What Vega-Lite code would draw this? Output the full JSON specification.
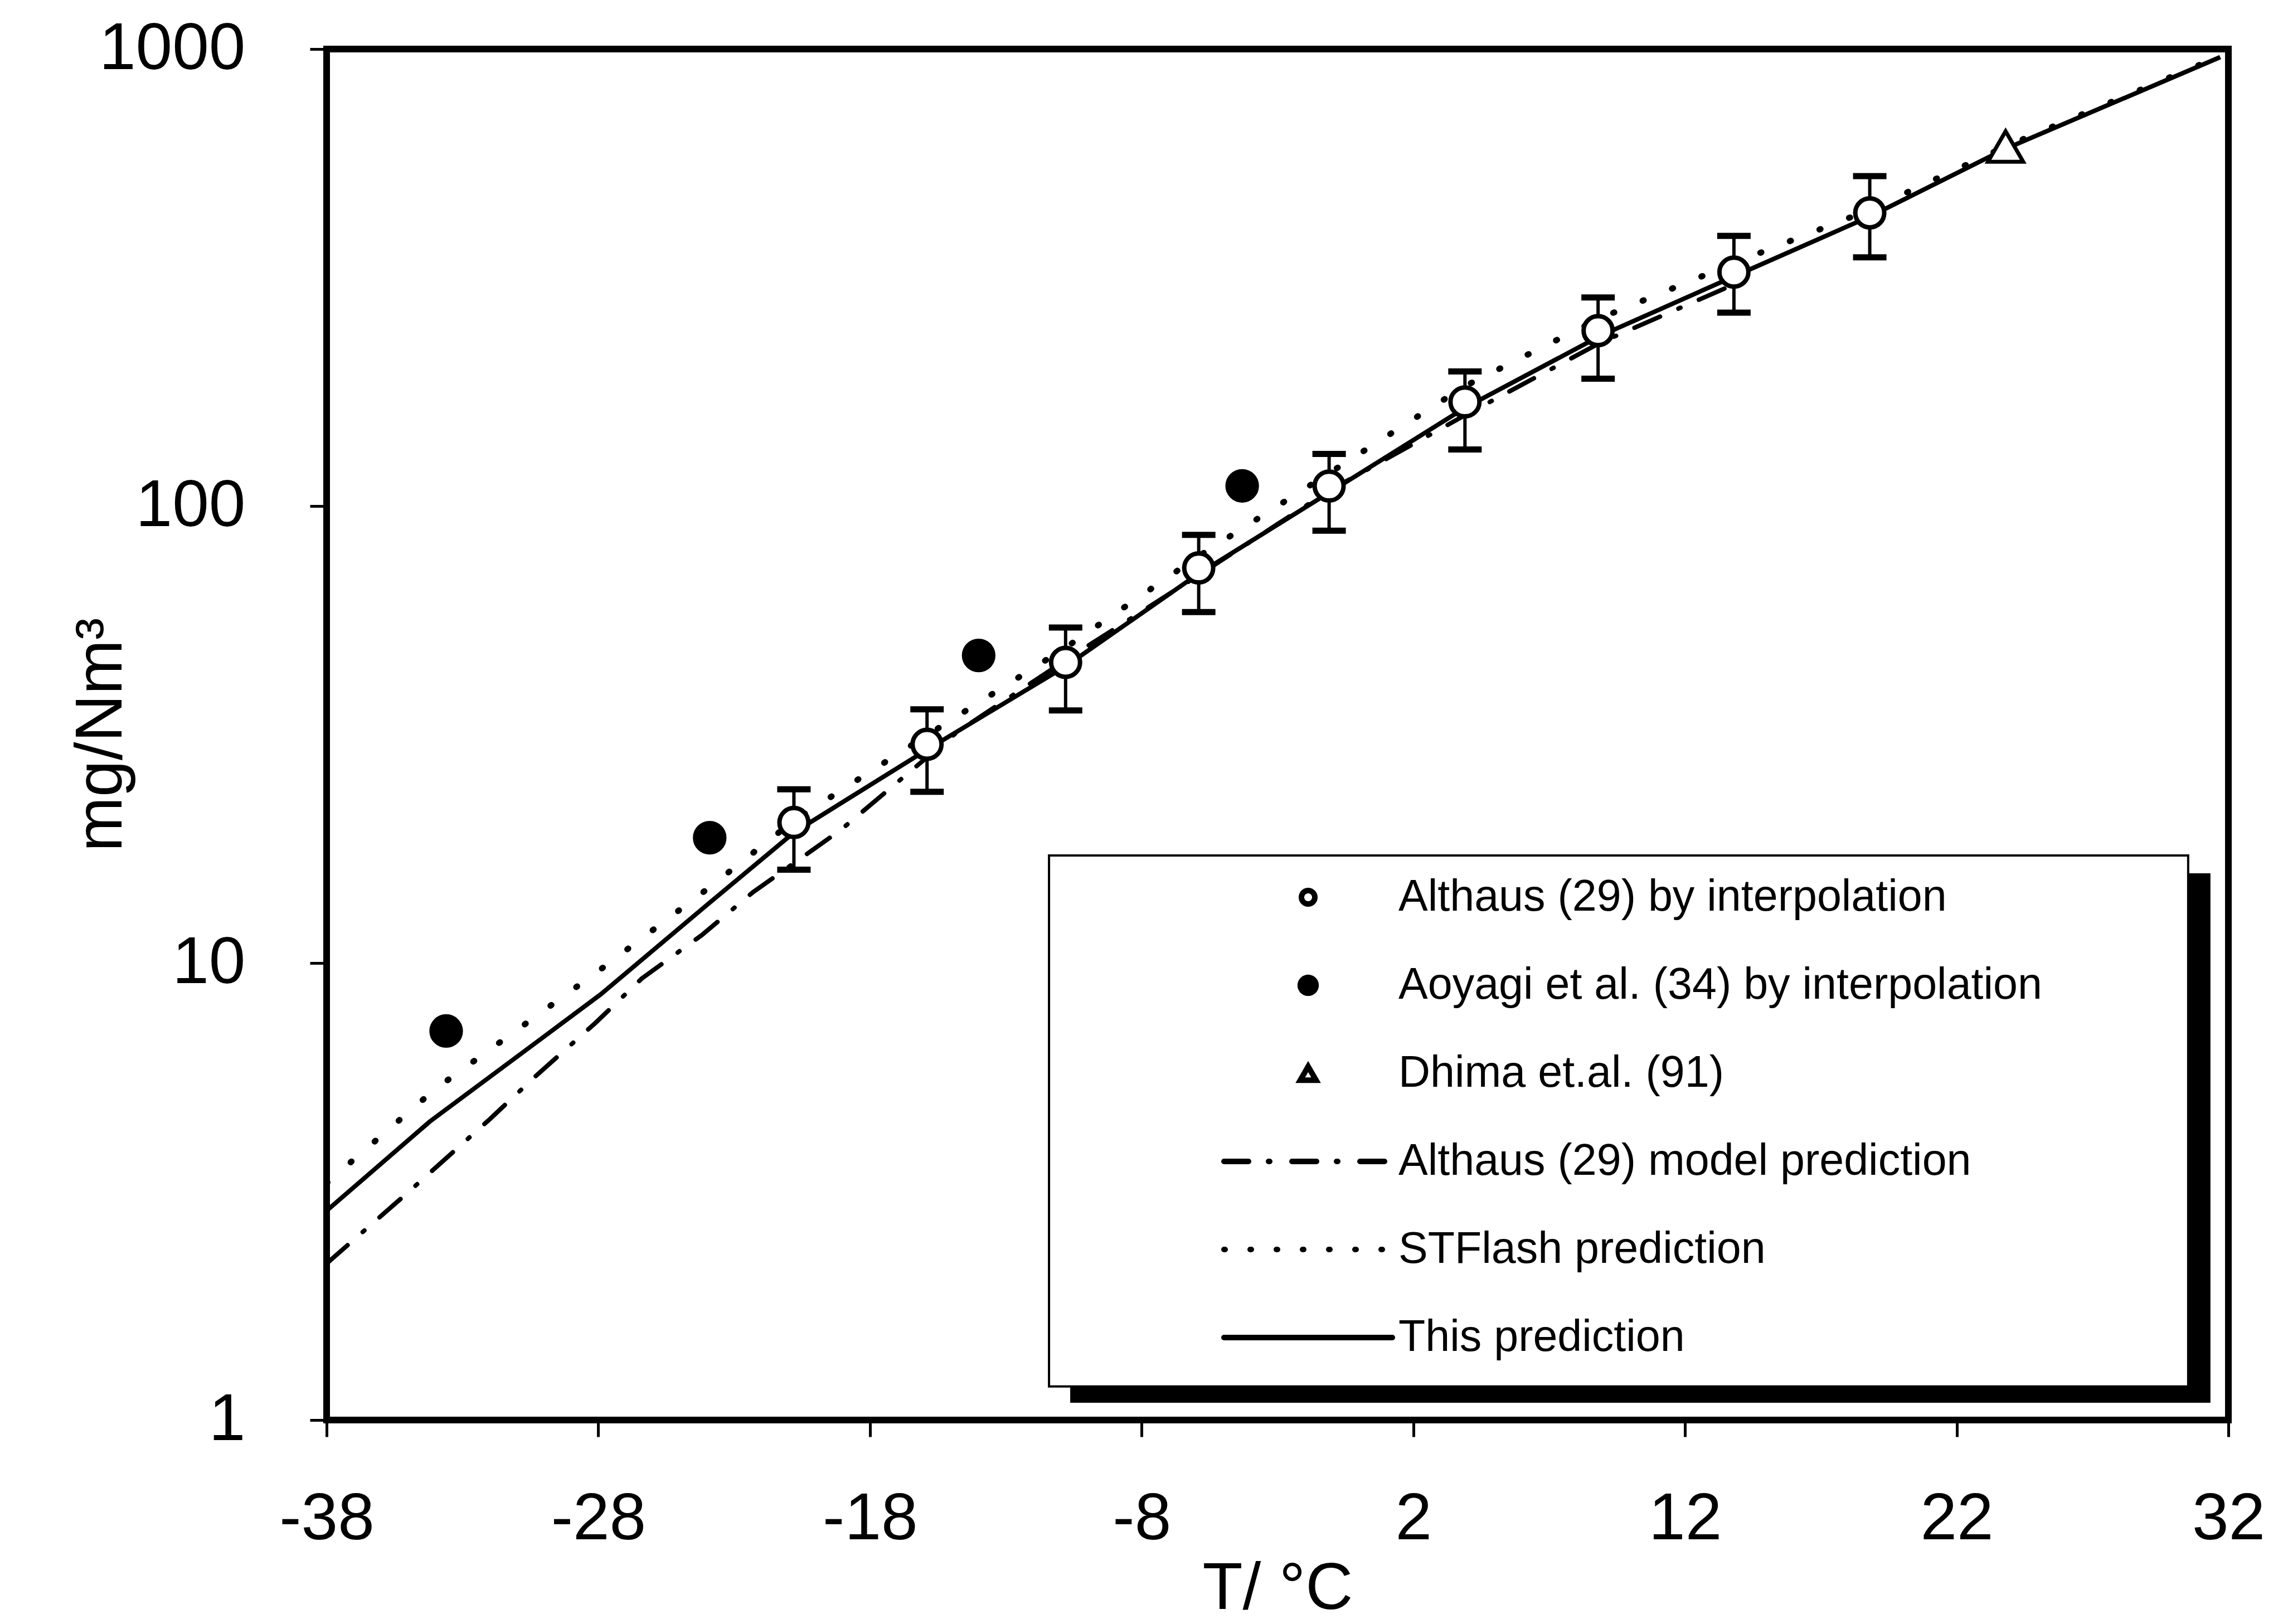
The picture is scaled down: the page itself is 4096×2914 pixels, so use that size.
{
  "$schema": "https://vega.github.io/schema/vega-lite/v6.json",
  "autosize": {"type": "none"},
  "padding": {"left": 586, "top": 88, "right": 98, "bottom": 366},
  "width": 3412,
  "height": 2460,
  "background": "white",
  "datasets": {
    "althaus": [
      {"series": "Althaus (29) by interpolation", "T": -20.8, "v": 20.3, "lo": 16.0, "hi": 24.0},
      {"series": "Althaus (29) by interpolation", "T": -15.9, "v": 30.1, "lo": 23.7, "hi": 35.9},
      {"series": "Althaus (29) by interpolation", "T": -10.8, "v": 45.5, "lo": 35.7, "hi": 54.2},
      {"series": "Althaus (29) by interpolation", "T": -5.9, "v": 73.2, "lo": 58.6, "hi": 86.5},
      {"series": "Althaus (29) by interpolation", "T": -1.1, "v": 110.6, "lo": 88.3, "hi": 130},
      {"series": "Althaus (29) by interpolation", "T": 3.9, "v": 169, "lo": 133, "hi": 197},
      {"series": "Althaus (29) by interpolation", "T": 8.8, "v": 242, "lo": 190, "hi": 286},
      {"series": "Althaus (29) by interpolation", "T": 13.8, "v": 325, "lo": 265, "hi": 390},
      {"series": "Althaus (29) by interpolation", "T": 18.8, "v": 438, "lo": 350, "hi": 527}
    ],
    "aoyagi": [
      {"series": "Aoyagi et al. (34) by interpolation", "T": -33.6, "v": 7.1},
      {"series": "Aoyagi et al. (34) by interpolation", "T": -23.9, "v": 18.8},
      {"series": "Aoyagi et al. (34) by interpolation", "T": -14.0, "v": 47.1},
      {"series": "Aoyagi et al. (34) by interpolation", "T": -4.3, "v": 110.7}
    ],
    "dhima": [
      {"series": "Dhima et.al. (91)", "T": 23.8, "v": 612}
    ],
    "model": [
      {"series": "Althaus (29) model prediction", "T": -38, "v": 2.2},
      {"series": "Althaus (29) model prediction", "T": -35, "v": 3.15},
      {"series": "Althaus (29) model prediction", "T": -32, "v": 4.55},
      {"series": "Althaus (29) model prediction", "T": -30.3, "v": 5.66},
      {"series": "Althaus (29) model prediction", "T": -28.1, "v": 7.4},
      {"series": "Althaus (29) model prediction", "T": -26.4, "v": 9.25},
      {"series": "Althaus (29) model prediction", "T": -24.2, "v": 11.5},
      {"series": "Althaus (29) model prediction", "T": -22.3, "v": 14.3},
      {"series": "Althaus (29) model prediction", "T": -19.1, "v": 19.5},
      {"series": "Althaus (29) model prediction", "T": -14.8, "v": 32},
      {"series": "Althaus (29) model prediction", "T": -10.8, "v": 46},
      {"series": "Althaus (29) model prediction", "T": -6, "v": 70},
      {"series": "Althaus (29) model prediction", "T": -1.1, "v": 108},
      {"series": "Althaus (29) model prediction", "T": 3.9, "v": 158},
      {"series": "Althaus (29) model prediction", "T": 8.9, "v": 228},
      {"series": "Althaus (29) model prediction", "T": 13.5, "v": 300}
    ],
    "stflash": [
      {"series": "STFlash prediction", "T": -38, "v": 3.3},
      {"series": "STFlash prediction", "T": -34, "v": 5.3},
      {"series": "STFlash prediction", "T": -28, "v": 9.6},
      {"series": "STFlash prediction", "T": -24, "v": 14.5},
      {"series": "STFlash prediction", "T": -20.8, "v": 20.5},
      {"series": "STFlash prediction", "T": -15.9, "v": 31.5},
      {"series": "STFlash prediction", "T": -10.8, "v": 49},
      {"series": "STFlash prediction", "T": -6, "v": 77},
      {"series": "STFlash prediction", "T": -1.1, "v": 118},
      {"series": "STFlash prediction", "T": 3.9, "v": 183},
      {"series": "STFlash prediction", "T": 8.9, "v": 258},
      {"series": "STFlash prediction", "T": 13.8, "v": 340},
      {"series": "STFlash prediction", "T": 18.8, "v": 445},
      {"series": "STFlash prediction", "T": 23.8, "v": 612},
      {"series": "STFlash prediction", "T": 31.7, "v": 965}
    ],
    "this": [
      {"series": "This prediction", "T": -38, "v": 2.87},
      {"series": "This prediction", "T": -34.2, "v": 4.5},
      {"series": "This prediction", "T": -30, "v": 6.9},
      {"series": "This prediction", "T": -27.9, "v": 8.55},
      {"series": "This prediction", "T": -24, "v": 13.4},
      {"series": "This prediction", "T": -20.8, "v": 19.3},
      {"series": "This prediction", "T": -15.9, "v": 29.3},
      {"series": "This prediction", "T": -10.8, "v": 44.6},
      {"series": "This prediction", "T": -6, "v": 70.5},
      {"series": "This prediction", "T": -1.1, "v": 107},
      {"series": "This prediction", "T": 3.9, "v": 164},
      {"series": "This prediction", "T": 8.9, "v": 236},
      {"series": "This prediction", "T": 13.8, "v": 318},
      {"series": "This prediction", "T": 18.8, "v": 430},
      {"series": "This prediction", "T": 23.8, "v": 605},
      {"series": "This prediction", "T": 31.7, "v": 960}
    ]
  },
  "layer": [
    {
      "data": {"name": "aoyagi"},
      "mark": {"type": "point", "opacity": 0, "filled": true, "stroke": "black"},
      "encoding": {
        "x": {
          "field": "T", "type": "quantitative",
          "scale": {"domain": [-38, 32], "nice": false, "zero": false},
          "axis": {
            "values": [-38, -28, -18, -8, 2, 12, 22, 32],
            "labelExpr": "'' + datum.value",
            "title": "T/ °C"
          }
        },
        "y": {
          "field": "v", "type": "quantitative",
          "scale": {"type": "log", "domain": [1, 1000], "nice": false},
          "axis": {
            "values": [1, 10, 100, 1000],
            "labelExpr": "'' + datum.value",
            "title": "mg/Nm³",
            "labelPadding": 116,
            "titlePadding": 144,
            "titleFontSize": 118
          }
        },
        "shape": {
          "field": "series", "type": "nominal",
          "scale": {
            "domain": ["Althaus (29) by interpolation", "Aoyagi et al. (34) by interpolation", "Dhima et.al. (91)", "Althaus (29) model prediction", "STFlash prediction", "This prediction"],
            "range": ["circle", "circle", "triangle-up", "stroke", "stroke", "stroke"]
          },
          "legend": {"title": null, "encoding": {"symbols": {"stroke": {"value": "black"}, "strokeWidth": {"value": 10}, "strokeCap": {"value": "round"}, "opacity": {"value": 1}}}}
        },
        "fill": {
          "field": "series", "type": "nominal",
          "scale": {
            "domain": ["Althaus (29) by interpolation", "Aoyagi et al. (34) by interpolation", "Dhima et.al. (91)", "Althaus (29) model prediction", "STFlash prediction", "This prediction"],
            "range": ["white", "black", "white", "white", "white", "white"]
          },
          "legend": {"title": null, "encoding": {"symbols": {"stroke": {"value": "black"}, "strokeWidth": {"value": 10}, "strokeCap": {"value": "round"}, "opacity": {"value": 1}}}}
        },
        "size": {
          "field": "series", "type": "nominal",
          "scale": {
            "type": "ordinal",
            "domain": ["Althaus (29) by interpolation", "Aoyagi et al. (34) by interpolation", "Dhima et.al. (91)", "Althaus (29) model prediction", "STFlash prediction", "This prediction"],
            "range": [576, 800, 800, 91204, 91204, 91204]
          },
          "legend": {"title": null, "encoding": {"symbols": {"stroke": {"value": "black"}, "strokeWidth": {"value": 10}, "strokeCap": {"value": "round"}, "opacity": {"value": 1}}}}
        },
        "strokeDash": {
          "field": "series", "type": "nominal",
          "scale": {
            "domain": ["Althaus (29) by interpolation", "Aoyagi et al. (34) by interpolation", "Dhima et.al. (91)", "Althaus (29) model prediction", "STFlash prediction", "This prediction"],
            "range": [[1, 0], [1, 0], [1, 0], [44, 36, 2, 40], [2, 45], [1, 0]]
          },
          "legend": {"title": null, "encoding": {"symbols": {"stroke": {"value": "black"}, "strokeWidth": {"value": 10}, "strokeCap": {"value": "round"}, "opacity": {"value": 1}}}}
        }
      }
    },
    {
      "data": {"values": [{}]},
      "mark": {"type": "rect", "fill": "black"},
      "encoding": {
        "x": {"datum": -10.63, "type": "quantitative"},
        "x2": {"datum": 31.34},
        "y": {"datum": 15.72, "type": "quantitative"},
        "y2": {"datum": 1.091}
      }
    },
    {
      "data": {"values": [{}]},
      "mark": {"type": "rect", "fill": "white", "stroke": "black", "strokeWidth": 4},
      "encoding": {
        "x": {"datum": -11.41, "type": "quantitative"},
        "x2": {"datum": 30.52},
        "y": {"datum": 17.19, "type": "quantitative"},
        "y2": {"datum": 1.184}
      }
    },
    {
      "data": {"name": "model"},
      "mark": {"type": "line", "color": "black", "strokeWidth": 8, "strokeDash": [50, 36, 4, 36], "strokeCap": "round"},
      "encoding": {
        "x": {"field": "T", "type": "quantitative"},
        "y": {"field": "v", "type": "quantitative"}
      }
    },
    {
      "data": {"name": "stflash"},
      "mark": {"type": "line", "color": "black", "strokeWidth": 11, "strokeDash": [2, 55], "strokeCap": "round"},
      "encoding": {
        "x": {"field": "T", "type": "quantitative"},
        "y": {"field": "v", "type": "quantitative"}
      }
    },
    {
      "data": {"name": "this"},
      "mark": {"type": "line", "color": "black", "strokeWidth": 8},
      "encoding": {
        "x": {"field": "T", "type": "quantitative"},
        "y": {"field": "v", "type": "quantitative"}
      }
    },
    {
      "data": {"name": "althaus"},
      "mark": {"type": "rule", "color": "black", "strokeWidth": 6, "opacity": 1},
      "encoding": {
        "x": {"field": "T", "type": "quantitative"},
        "y": {"field": "lo", "type": "quantitative"},
        "y2": {"field": "hi"}
      }
    },
    {
      "data": {"name": "althaus"},
      "mark": {"type": "tick", "orient": "horizontal", "color": "black", "size": 60, "thickness": 11, "opacity": 1},
      "encoding": {
        "x": {"field": "T", "type": "quantitative"},
        "y": {"field": "lo", "type": "quantitative"}
      }
    },
    {
      "data": {"name": "althaus"},
      "mark": {"type": "tick", "orient": "horizontal", "color": "black", "size": 60, "thickness": 11, "opacity": 1},
      "encoding": {
        "x": {"field": "T", "type": "quantitative"},
        "y": {"field": "hi", "type": "quantitative"}
      }
    },
    {
      "data": {"name": "althaus"},
      "mark": {"type": "point", "shape": "circle", "filled": true, "fill": "white", "stroke": "black", "strokeWidth": 8, "size": 2700, "opacity": 1},
      "encoding": {
        "x": {"field": "T", "type": "quantitative"},
        "y": {"field": "v", "type": "quantitative"}
      }
    },
    {
      "data": {"name": "aoyagi"},
      "mark": {"type": "point", "shape": "circle", "filled": true, "fill": "black", "stroke": "black", "strokeWidth": 2, "size": 3400, "opacity": 1},
      "encoding": {
        "x": {"field": "T", "type": "quantitative"},
        "y": {"field": "v", "type": "quantitative"}
      }
    },
    {
      "data": {"name": "dhima"},
      "mark": {"type": "point", "shape": "triangle-up", "filled": true, "fill": "white", "stroke": "black", "strokeWidth": 7, "size": 4000, "opacity": 1},
      "encoding": {
        "x": {"field": "T", "type": "quantitative"},
        "y": {"field": "v", "type": "quantitative"}
      }
    }
  ],
  "config": {
    "view": {"stroke": "black", "strokeWidth": 12},
    "axis": {
      "domain": false,
      "grid": false,
      "ticks": true,
      "tickSize": 30,
      "tickWidth": 5,
      "tickColor": "black",
      "labelFont": "Liberation Sans",
      "labelFontSize": 118,
      "labelColor": "black",
      "labelLimit": 2000,
      "labelFlush": false,
      "labelOverlap": false,
      "titleFont": "Liberation Sans",
      "titleFontSize": 118,
      "titleFontWeight": "normal",
      "titleColor": "black",
      "titleLimit": 3000
    },
    "axisX": {"labelPadding": 90, "titlePadding": 45},
    "legend": {
      "orient": "none",
      "legendX": 1605,
      "legendY": 1482,
      "columns": 1,
      "padding": 0,
      "clipHeight": 80,
      "labelFont": "Liberation Sans",
      "labelFontSize": 79,
      "labelColor": "black",
      "labelLimit": 3000,
      "labelOffset": 6,
      "symbolOffset": 0,
      "rowPadding": 78,
      "symbolStrokeWidth": 10,
      "symbolStrokeColor": "black",
      "symbolOpacity": 1
    }
  }
}
